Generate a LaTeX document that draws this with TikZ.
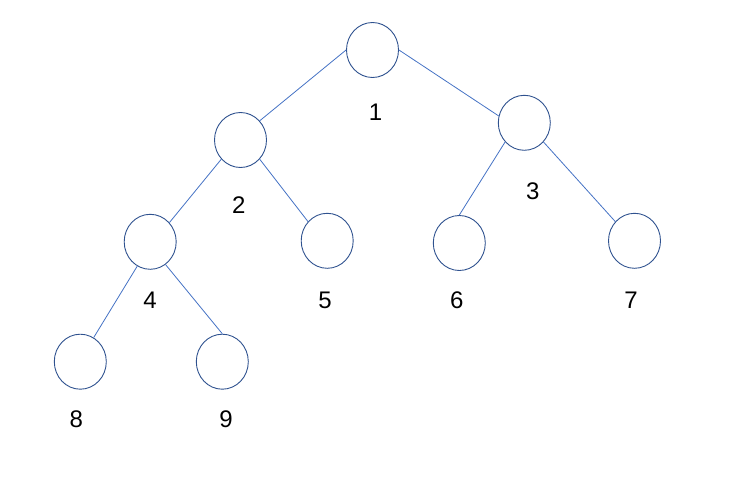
\documentclass[tikz,border=0pt]{standalone}
\usepackage{fontspec}
\setmainfont{Liberation Sans}
\usetikzlibrary{shapes.geometric}
\definecolor{ringblue}{HTML}{2F528F}
\definecolor{edgeblue}{HTML}{4472C4}
\begin{document}
\begin{tikzpicture}[x=1pt, y=-1pt,
    heapnode/.style={ellipse, draw=ringblue, line width=0.9pt, minimum width=52pt, minimum height=55pt, inner sep=0pt},
    heapedge/.style={draw=edgeblue, line width=0.8pt},
    heaplabel/.style={font=\fontsize{24}{28}\selectfont, inner sep=0pt}]
      \useasboundingbox (0,0) rectangle (741,479);
      % the heap cells
      \foreach \n/\x/\y in {1/372.5/50, 2/240.5/140, 3/524.3/122.8, 4/150.2/241.8, 5/327.2/240.8,
                            6/459.3/243, 7/634.5/240.8, 8/80.3/361.7, 9/222.3/361.7} {
        \node[heapnode] (n\n) at (\x,\y) {};
      }
      % their numbers
      \foreach \n/\x/\y in {1/375.5/112, 2/238.7/205, 3/532.7/191, 4/150/300.5, 5/325/300,
                            6/456.7/300, 7/631/300, 8/76.3/419, 9/226/419} {
        \node[heaplabel] (l\n) at (\x,\y) {\n};
      }
      % parent to child
      \draw[heapedge] (n1.west) -- (n2.45);
      \draw[heapedge] (n1.east) -- (n3.165);
      \draw[heapedge] (n2.-135) -- (n4.45);
      \draw[heapedge] (n2.-45) -- (n5.135);
      \draw[heapedge] (n3.-135) -- (n6.north);
      \draw[heapedge] (n3.-45) -- (n7.135);
      \draw[heapedge] (n4.-118) -- (n8.61);
      \draw[heapedge] (n4.-56) -- (n9.north);
\end{tikzpicture}
\end{document}
